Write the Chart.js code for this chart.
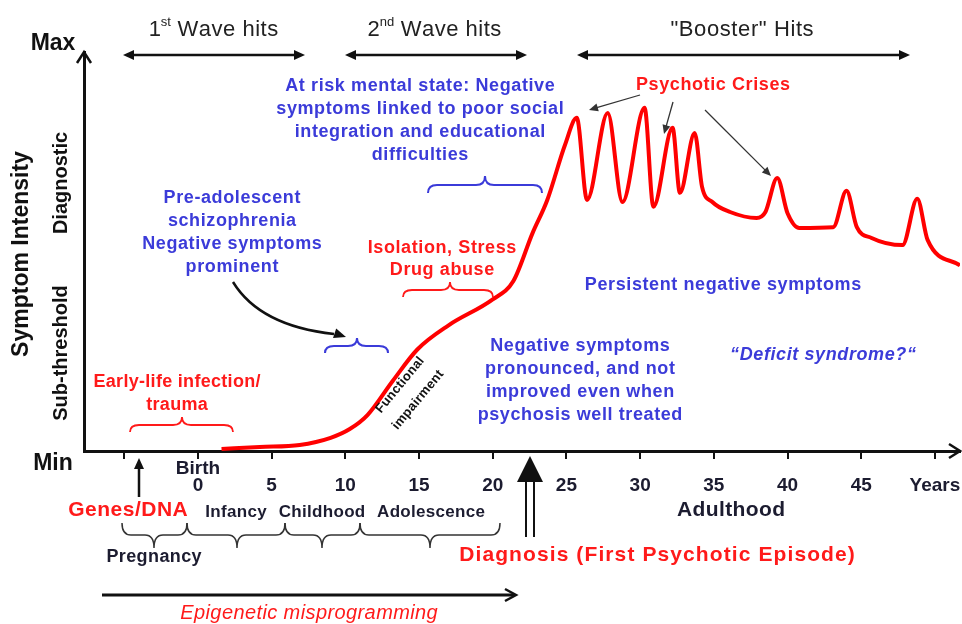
<!DOCTYPE html>
<html>
<head>
<meta charset="utf-8">
<script src="https://cdn.jsdelivr.net/npm/chart.js@4.4.1/dist/chart.umd.min.js"></script>
<style>
  html, body { margin: 0; padding: 0; background: #fff; }
</style>
</head>
<body>
<canvas id="chart" width="962" height="624"></canvas>
<script>
// symptom course over age (years), intensity 0 = Min, 100 = Max
const years = [1.6, 4.2, 6.9, 9.0, 10.3, 11.5, 13.2, 14.9, 17.0, 20.0, 21.4, 22.7, 23.7, 24.9, 25.7,
  26.4, 27.8, 28.8, 30.3, 30.9, 32.2, 32.7, 33.7, 34.2, 34.9, 36.1, 37.9, 38.5, 39.3, 40.0,
  40.8, 43.1, 44.0, 44.7, 45.7, 47.8, 48.8, 49.5, 51.7];
const intensity = [0.5, 1.0, 1.5, 3.3, 5.5, 9.0, 17.5, 25.5, 31.5, 38.0, 42.6, 54.6, 62.9, 76.7, 83.5,
  62.9, 84.7, 62.4, 86.0, 61.2, 81.0, 64.7, 79.7, 66.2, 62.4, 59.9, 58.4, 59.9, 68.4, 59.6,
  55.9, 56.1, 65.2, 56.1, 53.4, 51.6, 63.2, 52.9, 46.5];

const tickYears = [-5, 0, 5, 10, 15, 20, 25, 30, 35, 40, 45, 50];
const tickLabels = ['', '0', '5', '10', '15', '20', '25', '30', '35', '40', '45', 'Years'];

const FONT = "'Liberation Sans', Arial, sans-serif";
const BLUE = '#3b3bd9', RED = '#ff1a1a', DARK = '#1c1c30';

// text with optional letter spacing, drawn char by char
function txt(ctx, s, x, y, size, color, o = {}) {
  const sp = o.sp || 0;
  ctx.save();
  ctx.font = (o.italic ? 'italic ' : '') + (o.normal ? '' : 'bold ') + size + 'px ' + FONT;
  ctx.fillStyle = color;
  ctx.textAlign = 'left';
  ctx.textBaseline = 'middle';
  ctx.translate(x, y);
  if (o.rot) ctx.rotate(o.rot);
  const chars = [...s];
  const widths = chars.map(c => ctx.measureText(c).width);
  const total = widths.reduce((p, w) => p + w, 0) + sp * (chars.length - 1);
  let cx = -total / 2;
  chars.forEach((c, i) => { ctx.fillText(c, cx, 0); cx += widths[i] + sp; });
  ctx.restore();
}
function block(ctx, arr, x, y0, dy, size, color, o) {
  arr.forEach((s, i) => txt(ctx, s, x, y0 + i * dy, size, color, o));
}
function head(ctx, x, y, a, len, w) {
  ctx.beginPath();
  ctx.moveTo(x, y);
  ctx.lineTo(x - len * Math.cos(a) + w * Math.sin(a), y - len * Math.sin(a) - w * Math.cos(a));
  ctx.lineTo(x - len * Math.cos(a) - w * Math.sin(a), y - len * Math.sin(a) + w * Math.cos(a));
  ctx.closePath();
  ctx.fill();
}
function arrow(ctx, x1, y1, x2, y2, o) {
  ctx.save();
  ctx.strokeStyle = ctx.fillStyle = o.color;
  ctx.lineWidth = o.width;
  const a = Math.atan2(y2 - y1, x2 - x1);
  ctx.beginPath();
  ctx.moveTo(x1 + (o.both ? o.len * 0.8 * Math.cos(a) : 0), y1 + (o.both ? o.len * 0.8 * Math.sin(a) : 0));
  ctx.lineTo(x2 - o.len * 0.8 * Math.cos(a), y2 - o.len * 0.8 * Math.sin(a));
  ctx.stroke();
  head(ctx, x2, y2, a, o.len, o.w);
  if (o.both) head(ctx, x1, y1, a + Math.PI, o.len, o.w);
  ctx.restore();
}
function chevron(ctx, x, y, a, len, w) {
  ctx.save();
  ctx.strokeStyle = '#111';
  ctx.lineWidth = 2.5;
  ctx.beginPath();
  ctx.moveTo(x - len * Math.cos(a) + w * Math.sin(a), y - len * Math.sin(a) - w * Math.cos(a));
  ctx.lineTo(x, y);
  ctx.lineTo(x - len * Math.cos(a) - w * Math.sin(a), y - len * Math.sin(a) + w * Math.cos(a));
  ctx.stroke();
  ctx.restore();
}
function brace(ctx, x1, x2, tipX, yEnd, yMid, yTip, color, width) {
  const r = Math.min(9, (tipX - x1) / 2, (x2 - tipX) / 2);
  ctx.save();
  ctx.strokeStyle = color;
  ctx.lineWidth = width;
  ctx.beginPath();
  ctx.moveTo(x1, yEnd);
  ctx.quadraticCurveTo(x1, yMid, x1 + r, yMid);
  ctx.lineTo(tipX - r, yMid);
  ctx.quadraticCurveTo(tipX, yMid, tipX, yTip);
  ctx.quadraticCurveTo(tipX, yMid, tipX + r, yMid);
  ctx.lineTo(x2 - r, yMid);
  ctx.quadraticCurveTo(x2, yMid, x2, yEnd);
  ctx.stroke();
  ctx.restore();
}
function ordinal(ctx, num, sup, rest, cx, y, size, color, sp) {
  ctx.save();
  ctx.fillStyle = color;
  ctx.textBaseline = 'middle';
  ctx.textAlign = 'left';
  const f1 = size + 'px ' + FONT, f2 = Math.round(size * 0.6) + 'px ' + FONT;
  ctx.font = f1;
  const w1 = ctx.measureText(num).width;
  const w3 = ctx.measureText(rest).width + sp * (rest.length - 1);
  ctx.font = f2;
  const w2 = ctx.measureText(sup).width;
  let x = cx - (w1 + w2 + w3) / 2;
  ctx.font = f1; ctx.fillText(num, x, y); x += w1;
  ctx.font = f2; ctx.fillText(sup, x, y - size * 0.33); x += w2;
  ctx.font = f1;
  for (const c of rest) { ctx.fillText(c, x, y); x += ctx.measureText(c).width + sp; }
  ctx.restore();
}

const annotations = {
  id: 'annotations',
  afterDraw(chart) {
    const ctx = chart.ctx;
    const a = chart.chartArea;
    const S = { sp: 0.6 };

    // axis arrowheads
    chevron(ctx, a.left, a.top, -Math.PI / 2, 11, 7);
    chevron(ctx, a.right, a.bottom, 0, 11, 7);

    // axis labels
    txt(ctx, 'Max', 53, 44, 23, '#111');
    txt(ctx, 'Min', 53, 464, 23, '#111');
    txt(ctx, 'Symptom Intensity', 22, 254, 23, '#111', { rot: -Math.PI / 2 });
    txt(ctx, 'Diagnostic', 61, 183, 20, '#111', { rot: -Math.PI / 2 });
    txt(ctx, 'Sub-threshold', 61, 353, 20, '#111', { rot: -Math.PI / 2 });

    // waves at the top
    ordinal(ctx, '1', 'st', ' Wave hits', 213, 30, 22, '#222', 0.5);
    ordinal(ctx, '2', 'nd', ' Wave hits', 434, 30, 22, '#222', 0.5);
    txt(ctx, '"Booster" Hits', 742, 30, 22, '#222', { normal: true, sp: 0.6 });
    const hit = { color: '#111', width: 2.5, len: 11, w: 5, both: true };
    arrow(ctx, 123, 55, 305, 55, hit);
    arrow(ctx, 345, 55, 527, 55, hit);
    arrow(ctx, 577, 55, 910, 55, hit);

    // blue notes
    block(ctx, ['At risk mental state: Negative', 'symptoms linked to poor social',
      'integration and educational', 'difficulties'], 420, 86, 23, 18, BLUE, S);
    brace(ctx, 428, 542, 485, 193, 185, 176, BLUE, 2);
    block(ctx, ['Pre-adolescent', 'schizophrenia', 'Negative symptoms', 'prominent'],
      232, 198, 23, 18, BLUE, S);
    brace(ctx, 325, 388, 357, 353, 346, 338, BLUE, 2);
    block(ctx, ['Negative symptoms', 'pronounced, and not', 'improved even when',
      'psychosis well treated'], 580, 346, 23, 18, BLUE, S);
    txt(ctx, 'Persistent negative symptoms', 723, 285, 18, BLUE, S);
    txt(ctx, '\u201cDeficit syndrome?\u201c', 823, 355, 18, BLUE, { italic: true, sp: 0.6 });

    // curved arrow
    ctx.save();
    ctx.strokeStyle = ctx.fillStyle = '#111';
    ctx.lineWidth = 2.5;
    ctx.beginPath();
    ctx.moveTo(233, 282);
    ctx.quadraticCurveTo(260, 326, 334, 334);
    ctx.stroke();
    head(ctx, 346, 337, Math.atan2(4, 12), 12, 5);
    ctx.restore();

    // red notes
    block(ctx, ['Isolation, Stress', 'Drug abuse'], 442, 248, 22, 18, RED, S);
    brace(ctx, 403, 493, 450, 297, 290, 282, RED, 1.8);
    block(ctx, ['Early-life infection/', 'trauma'], 177, 382, 23, 18, RED, { sp: 0.3 });
    brace(ctx, 130, 233, 182, 432, 425, 417, RED, 1.8);
    txt(ctx, 'Psychotic Crises', 713, 85, 18, RED, S);
    const thin = { color: '#333', width: 1.3, len: 9, w: 4 };
    arrow(ctx, 640, 95, 589, 110, thin);
    arrow(ctx, 673, 102, 664, 134, thin);
    arrow(ctx, 705, 110, 771, 176, thin);

    // functional impairment, just under the curve
    txt(ctx, 'Functional', 400, 385, 13, '#111', { rot: -0.88, sp: 0.3 });
    txt(ctx, 'impairment', 418, 400, 13, '#111', { rot: -0.88, sp: 0.3 });

    // below the axis
    txt(ctx, 'Genes/DNA', 128, 510, 21, RED, { sp: 0.5 });
    arrow(ctx, 139, 497, 139, 458, { color: '#111', width: 2.5, len: 11, w: 5 });
    txt(ctx, 'Infancy', 236, 512, 17, DARK, { sp: 0.3 });
    txt(ctx, 'Childhood', 322, 512, 17, DARK, { sp: 0.3 });
    txt(ctx, 'Adolescence', 431, 512, 17, DARK, { sp: 0.3 });
    brace(ctx, 122, 187, 154, 523, 535, 548, '#333', 1.5);
    brace(ctx, 187, 285, 237, 523, 535, 548, '#333', 1.5);
    brace(ctx, 285, 360, 322, 523, 535, 548, '#333', 1.5);
    brace(ctx, 360, 500, 430, 523, 535, 548, '#333', 1.5);
    txt(ctx, 'Pregnancy', 154, 557, 18, DARK, { sp: 0.4 });
    txt(ctx, 'Adulthood', 731, 510, 21, DARK, { sp: 0.4 });

    // diagnosis arrow
    ctx.save();
    ctx.fillStyle = ctx.strokeStyle = '#111';
    ctx.beginPath();
    ctx.moveTo(530, 456);
    ctx.lineTo(543, 482);
    ctx.lineTo(517, 482);
    ctx.closePath();
    ctx.fill();
    ctx.lineWidth = 2;
    ctx.beginPath();
    ctx.moveTo(526, 482); ctx.lineTo(526, 537);
    ctx.moveTo(534, 482); ctx.lineTo(534, 537);
    ctx.stroke();
    ctx.restore();
    txt(ctx, 'Diagnosis (First Psychotic Episode)', 657, 555, 21, RED, { sp: 1.1 });

    // epigenetic arrow
    ctx.save();
    ctx.strokeStyle = '#111';
    ctx.lineWidth = 3;
    ctx.beginPath();
    ctx.moveTo(102, 595); ctx.lineTo(514, 595);
    ctx.stroke();
    ctx.restore();
    chevron(ctx, 516, 595, 0, 11, 6);
    txt(ctx, 'Epigenetic misprogramming', 309, 613, 20, RED, { italic: true, normal: true, sp: 0.4 });
  }
};

new Chart(document.getElementById('chart'), {
  type: 'line',
  data: {
    datasets: [{
      data: years.map((x, i) => ({ x, y: intensity[i] })),
      borderColor: '#ff0000',
      borderWidth: 4,
      pointRadius: 0,
      cubicInterpolationMode: 'monotone',
      fill: false
    }]
  },
  options: {
    responsive: false,
    animation: false,
    layout: { padding: { top: 52, right: 2, left: 0, bottom: 0 } },
    plugins: { legend: { display: false }, tooltip: { enabled: false } },
    scales: {
      x: {
        type: 'linear',
        min: -7.73,
        max: 51.7,
        afterFit: (s) => { s.height = 173; },
        afterBuildTicks: (s) => { s.ticks = tickYears.map(v => ({ value: v })); },
        border: { display: true, color: '#111', width: 3 },
        grid: { drawOnChartArea: false, drawTicks: true, tickLength: 8, lineWidth: 2, color: '#111' },
        ticks: {
          padding: 1,
          autoSkip: false,
          maxRotation: 0,
          color: DARK,
          font: { family: FONT, size: 19, weight: 'bold', lineHeight: 0.9 },
          callback: (v) => {
            const i = tickYears.indexOf(v);
            if (i < 0) return '';
            if (v === 0) return ['Birth', tickLabels[i]];
            return ['', tickLabels[i]];
          }
        }
      },
      y: {
        min: 0,
        max: 100,
        afterFit: (s) => { s.width = 84; },
        border: { display: true, color: '#111', width: 3 },
        grid: { drawOnChartArea: false, drawTicks: false },
        ticks: { display: false }
      }
    }
  },
  plugins: [annotations]
});
</script>
</body>
</html>
